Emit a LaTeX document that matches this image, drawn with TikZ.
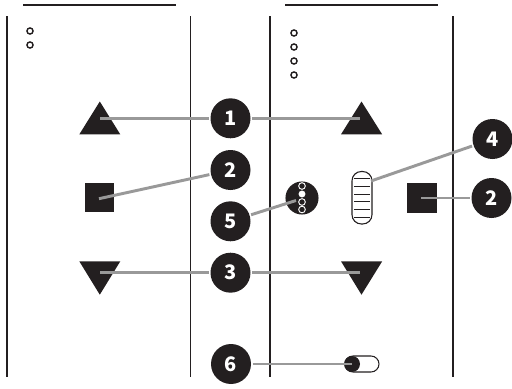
\documentclass[tikz,border=0pt]{standalone}
\usepackage{fontspec}
\setmainfont{Noto Sans CJK JP}
\definecolor{ink}{HTML}{231F20}
\definecolor{lead}{HTML}{999999}
\tikzset{
  x=0.75pt,y=-0.75pt,
  rule/.style={draw=ink,line width=1.05pt},
  dot/.style={circle,draw=ink,fill=white,line width=1.05pt,inner sep=0pt,minimum size=4.6pt},
  numdot/.style={circle,fill=ink,text=white,inner sep=0pt,minimum size=30pt,font=\fontsize{15}{15}\selectfont\bfseries},
  sq/.style={rectangle,fill=ink,inner sep=0pt,minimum size=22pt},
  leader/.style={draw=lead,line width=2.2pt,shorten <=1pt},
  tri/.style={fill=ink}
}
\begin{document}
\begin{tikzpicture}
\useasboundingbox (0,0) rectangle (512,389);
\draw[rule] (23,5) -- (176,5);
\draw[rule] (285,5) -- (438,5);
\foreach \px in {7,190.5,270,453} \draw[rule] (\px,16) -- (\px,377);
\node[dot] (la) at (30,31) {};
\node[dot] (lb) at (30,45) {};
\node[dot] (ra) at (294,33) {};
\node[dot] (rb) at (294,47) {};
\node[dot] (rc) at (294,61) {};
\node[dot] (rd) at (294,75) {};
\fill[tri] (99.8,101.5) -- (120.3,134.4) -- (79.3,134.4) -- cycle;
\fill[tri] (361.5,101.5) -- (382.2,134.4) -- (341,134.4) -- cycle;
\fill[tri] (99.8,294.7) -- (120.3,261.3) -- (79.3,261.3) -- cycle;
\fill[tri] (361.5,294.7) -- (382.2,261.3) -- (341,261.3) -- cycle;
\coordinate (tl) at (100,118.3);
\coordinate (tr) at (360,118.3);
\coordinate (bl) at (100,272.7);
\coordinate (br) at (360,272.7);
\node[sq] (sl) at (99.7,197.8) {};
\node[sq] (sr) at (422,198) {};
\coordinate (slc) at (99,198.7);
\coordinate (src) at (421,198);
\draw[draw=ink,line width=0.8pt,fill=white,rounded corners=7pt] (352,171.5) rectangle (372,224);
\foreach \py in {178.7,186.3,194,201.5,209,217} \draw[ink,line width=0.6pt] (354,\py) -- (370,\py);
\coordinate (sld) at (371,181);
\node[circle,fill=ink,inner sep=0pt,minimum size=24.8pt] (dial) at (302,198) {};
\node[dot,draw=white,fill=ink,line width=0.7pt,minimum size=5pt] (d1) at (302,186) {};
\node[circle,fill=white,inner sep=0pt,minimum size=5.2pt] (d2) at (302,194) {};
\node[dot,draw=white,fill=ink,line width=0.7pt,minimum size=5pt] (d3) at (302,202) {};
\node[dot,draw=white,fill=ink,line width=0.7pt,minimum size=5pt] (d4) at (302,209.5) {};
\coordinate (dl) at (296,200.5);
\draw[draw=ink,line width=0.8pt,rounded corners=6pt] (345,356) rectangle (379,372);
\node[circle,fill=ink,inner sep=0pt,minimum size=12pt] (tg) at (352,364) {};
\coordinate (tgc) at (352,364);
\node[numdot] (n1) at (230.5,118.3) {1};
\node[numdot] (n2) at (230.5,170) {2};
\node[numdot] (n5) at (230.5,221.3) {5};
\node[numdot] (n3) at (230.5,272.7) {3};
\node[numdot] (n6) at (231,364) {6};
\node[numdot] (n4) at (492.5,139) {4};
\node[numdot] (n2r) at (491.5,198) {2};
\draw[leader] (n1) -- (tl);
\draw[leader] (n1) -- (tr);
\draw[leader] (n2) -- (slc);
\draw[leader] (n3) -- (bl);
\draw[leader] (n3) -- (br);
\draw[leader] (n4) -- (sld);
\draw[leader] (n5) -- (dl);
\draw[leader] (n6) -- (tgc);
\draw[leader] (n2r) -- (src);
\end{tikzpicture}
\end{document}
